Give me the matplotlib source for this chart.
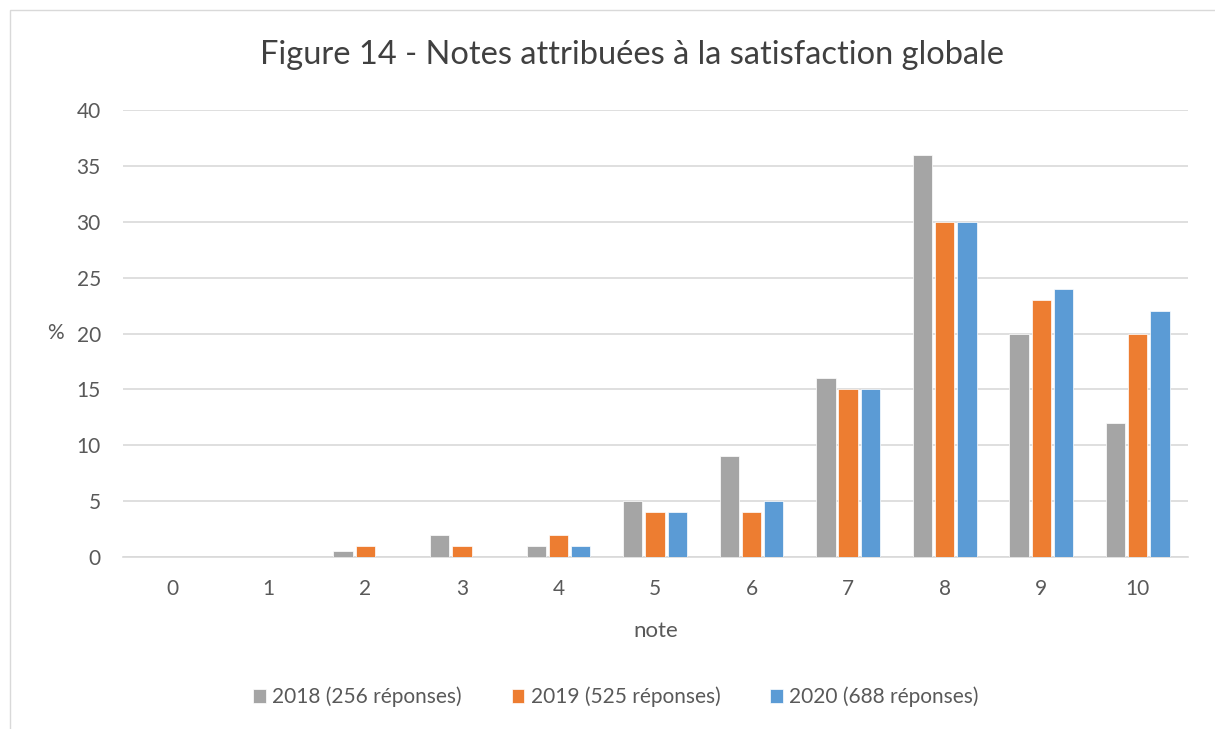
import matplotlib.pyplot as plt
import numpy as np
from matplotlib.patches import Rectangle

plt.rcParams['font.family'] = ['Lato', 'DejaVu Sans']

notes = ['0', '1', '2', '3', '4', '5', '6', '7', '8', '9', '10']
v2018 = [0, 0, 0.5, 2, 1, 5, 9, 16, 36, 20, 12]
v2019 = [0, 0, 1, 1, 2, 4, 4, 15, 30, 23, 20]
v2020 = [0, 0, 0, 0, 1, 4, 5, 15, 30, 24, 22]
labels = ['2018 (256 réponses)', '2019 (525 réponses)', '2020 (688 réponses)']
colors = ['#a5a5a5', '#ed7d31', '#5b9bd5']

fig = plt.figure(figsize=(12.15, 7.29), dpi=100)
ax = fig.add_axes([123/1215, 172/729, 1065/1215, 447/729])

# light frame around the chart area
fig.patches.append(Rectangle((10/1215, -0.01), 1.1, 1 - 10/729 + 0.01, transform=fig.transFigure,
                             fill=False, edgecolor='#d9d9d9', linewidth=1))

x = np.arange(len(notes))
step = 0.23
w = 0.2
for i, (vals, lab, c) in enumerate(zip([v2018, v2019, v2020], labels, colors)):
    ax.bar(x + (i - 1) * step, vals, width=w, color=c, label=lab, zorder=3,
           edgecolor='white', linewidth=0.5)

ax.set_xlim(-0.51, 10.52)
ax.set_ylim(0, 40)
ax.set_yticks(range(0, 41, 5))
ax.set_xticks(x)
ax.set_xticklabels(notes)
ax.yaxis.grid(True, color='#d9d9d9', linewidth=1.2, zorder=0)
for s in ['top', 'right', 'left']:
    ax.spines[s].set_visible(False)
ax.spines['bottom'].set_color('#d9d9d9')
ax.spines['bottom'].set_linewidth(1.2)
ax.tick_params(length=0, labelsize=15, colors='#595959', pad=16)
ax.tick_params(axis='y', pad=16)

fig.suptitle('Figure 14 - Notes attribuées à la satisfaction globale', fontsize=23.5,
             color='#404040', x=632/1215, y=1 - 55/729, va='center')
ax.set_xlabel('note', fontsize=16, color='#595959', labelpad=16)
fig.text(55/1215, 1 - 333/729, '%', fontsize=15, color='#595959', ha='center', va='center')

ax.legend(loc='center', bbox_to_anchor=(616/1215, 1 - 697/729), bbox_transform=fig.transFigure,
          ncol=3, frameon=False, fontsize=15, labelcolor='#595959', handlelength=0.6,
          handleheight=0.6, handletextpad=0.3, columnspacing=2.4)

fig.savefig('out.png', dpi=100)
